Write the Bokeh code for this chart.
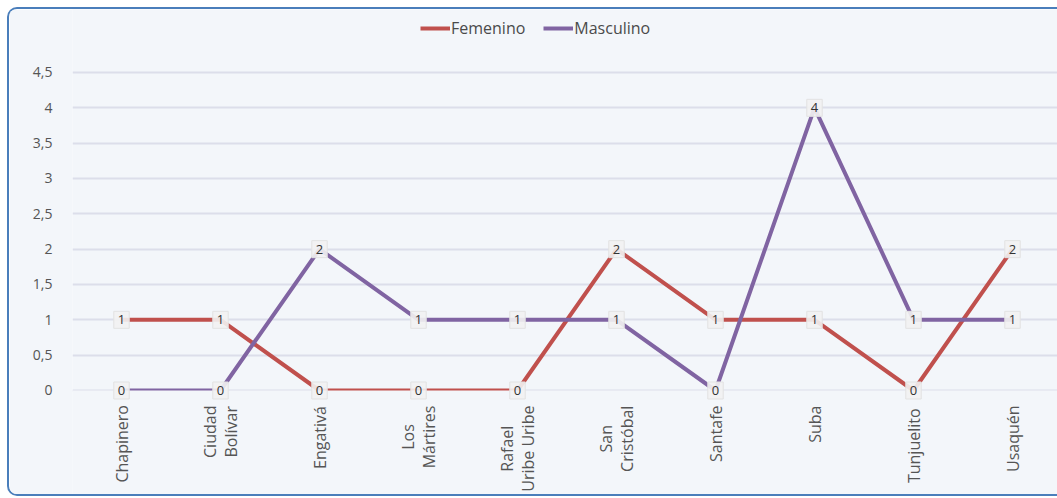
import math
from bokeh.plotting import figure
from bokeh.models import (ColumnDataSource, Range1d, FixedTicker, BoxAnnotation,
                          Legend, LegendItem)
from bokeh.embed import file_html
from bokeh.resources import INLINE

# ---- data ----
categories = ["Chapinero", "Ciudad\nBolívar", "Engativá", "Los\nMártires",
              "Rafael\nUribe Uribe", "San\nCristóbal", "Santafe", "Suba",
              "Tunjuelito", "Usaquén"]
femenino = [1, 1, 0, 0, 0, 2, 1, 1, 0, 2]
masculino = [0, 0, 2, 1, 1, 1, 0, 4, 1, 1]
y_ticks = [0, 0.5, 1, 1.5, 2, 2.5, 3, 3.5, 4, 4.5]
y_tick_labels = ["0", "0,5", "1", "1,5", "2", "2,5", "3", "3,5", "4", "4,5"]

FONT = "Open Sans"
BG = "#f3f6fa"
RED = "#c0504d"
PURPLE = "#8064a2"
TEXT = "#555555"
GRID = "#dcdeea"
CAT_FONT_PX = 16
CAT_STANDOFF = 15

# approximate Open Sans advance widths (em) used to centre multi-line labels
_W = {"a": .556, "b": .613, "c": .48, "d": .613, "e": .561, "f": .336,
      "i": .258, "l": .258, "n": .613, "o": .603, "r": .409, "s": .476,
      "t": .352, "u": .613, "v": .5, "í": .258, "ó": .603, "á": .556,
      "M": .907, "B": .632, "C": .632, "U": .727, "L": .519, "S": .549,
      "R": .622, " ": .26}


def text_px(s):
    return sum(_W.get(ch, .58) for ch in s) * CAT_FONT_PX


xs = list(range(len(categories)))

# canvas is 1050x489 starting at (9, 9); 0 sits at 390px, 4.5 at 72px
p = figure(width=1048, height=485, output_backend="svg", toolbar_location=None,
           title=None,
           x_range=Range1d(-0.495, 9.4747), y_range=Range1d(-1.5283, 5.3915),
           min_border_left=63, min_border_right=0, min_border_top=0,
           min_border_bottom=0,
           background_fill_color=BG, border_fill_color=BG,
           outline_line_color=None)
p.styles = {"margin-left": "7px", "margin-top": "7px",
            "box-sizing": "content-box",
            "border-left": "2px solid #4a7ebb",
            "border-top": "2px solid #4a7ebb",
            "border-bottom": "2px solid #4a7ebb",
            "border-radius": "10px 0 0 10px",
            "overflow": "hidden"}

p.xaxis.visible = False
p.xgrid.grid_line_color = None

p.yaxis.ticker = FixedTicker(ticks=y_ticks)
p.yaxis.major_label_overrides = {t: l for t, l in zip(y_ticks, y_tick_labels)}
p.yaxis.major_label_text_font = FONT
p.yaxis.major_label_text_font_size = "14px"
p.yaxis.major_label_text_color = TEXT
p.yaxis.major_label_standoff = 14
p.yaxis.axis_line_color = None
p.yaxis.major_tick_line_color = None
p.yaxis.minor_tick_line_color = None

p.ygrid.grid_line_color = GRID
p.ygrid.grid_line_width = 2

src_f = ColumnDataSource(dict(x=xs, y=femenino, t=[str(v) for v in femenino]))
src_m = ColumnDataSource(dict(x=xs, y=masculino, t=[str(v) for v in masculino]))

r_f = p.line("x", "y", source=src_f, line_color=RED, line_width=4)
r_m = p.line("x", "y", source=src_m, line_color=PURPLE, line_width=4)

# plot-area clip below the zero baseline
p.add_layout(BoxAnnotation(top=0, fill_color=BG, fill_alpha=1, line_color=None))

# data labels
for src in (src_f, src_m):
    r = p.text("x", "y", text="t", source=src,
               text_align="center", text_baseline="middle",
               text_font={"value": FONT}, text_font_size="13px",
               text_color="#333333",
               background_fill_color="#f2f2f2", background_fill_alpha=0.9,
               border_line_color="#e2e2e2", border_line_width=1, padding=4)
    r.level = "overlay"

# category labels (rotated, lines centred, top end at the standoff)
cx, ct, coff = [], [], []
for x, c in zip(xs, categories):
    w = max(text_px(line) for line in c.split("\n"))
    cx.append(x)
    ct.append(c)
    coff.append(CAT_STANDOFF + w / 2)
src_c = ColumnDataSource(dict(x=cx, y=[0] * len(cx), t=ct, off=coff))
rc = p.text("x", "y", text="t", source=src_c, angle=math.pi / 2,
            anchor="center", text_align="center", text_baseline="middle",
            y_offset="off", text_font={"value": FONT},
            text_font_size=f"{CAT_FONT_PX}px",
            text_color=TEXT, text_line_height=0.92)
rc.level = "overlay"

legend = Legend(items=[LegendItem(label="Femenino", renderers=[r_f]),
                       LegendItem(label="Masculino", renderers=[r_m])],
                orientation="horizontal", location=(348, 459),
                label_text_font=FONT, label_text_font_size="16px",
                label_text_color="#4a4a4a", glyph_width=30, glyph_height=20,
                label_standoff=1, spacing=18, padding=0, margin=0,
                border_line_color=None, background_fill_alpha=0)
p.add_layout(legend, "center")

open("out.html", "w").write(file_html(p, INLINE))
